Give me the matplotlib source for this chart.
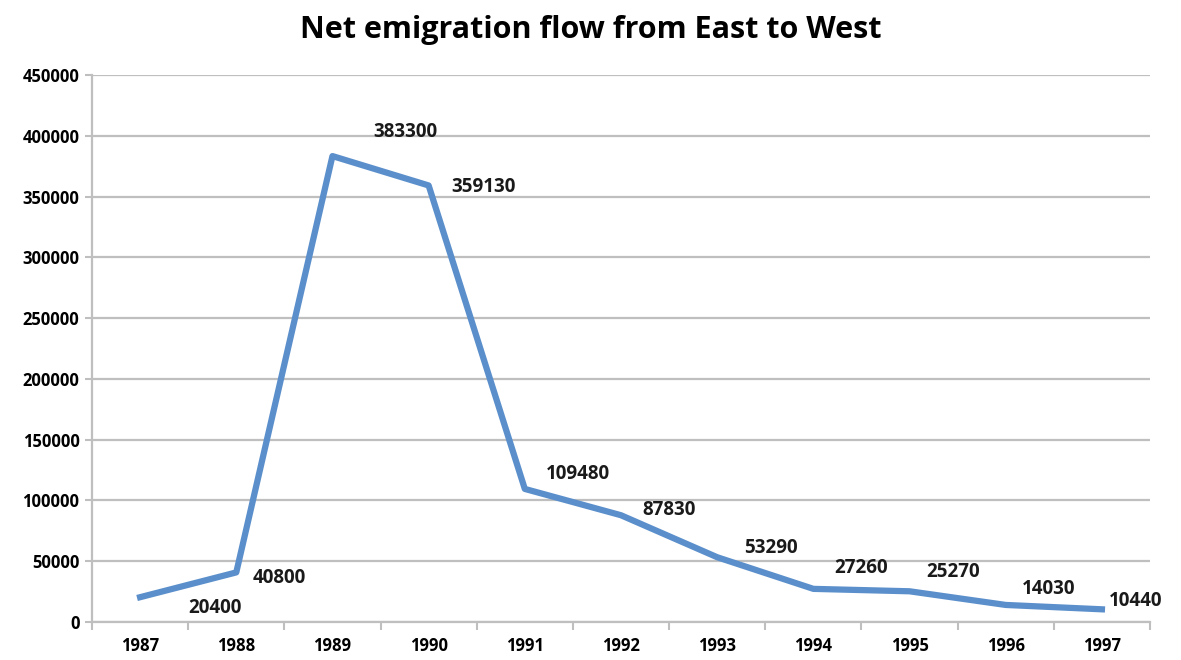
import matplotlib.pyplot as plt

years = ["1987", "1988", "1989", "1990", "1991", "1992", "1993", "1994", "1995", "1996", "1997"]
flow = [20400, 40800, 383300, 359130, 109480, 87830, 53290, 27260, 25270, 14030, 10440]

# label offsets in pixels (dx, dy)
offsets = [(75, -11), (43, -6), (73, 24), (55, -2), (53, 15), (48, 5),
           (54, 9), (48, 21), (44, 19), (43, 16), (34, 8)]

plt.rcParams['font.family'] = ['Open Sans', 'DejaVu Sans']
grey = "#bfbfbf"

fig = plt.figure(figsize=(11.81, 6.60), dpi=100)
ax = fig.add_axes([92 / 1181, 38 / 660, 1058 / 1181, 547 / 660])

x = list(range(len(years)))
ax.plot(x, flow, color="#5b8fcb", linewidth=4.5, solid_joinstyle="round", zorder=3)

for i, v in enumerate(flow):
    ax.annotate(str(v), (x[i], v), xytext=offsets[i], textcoords="offset pixels",
                ha="center", va="center", fontsize=13.5, fontweight="bold", color="#1a1a1a")

ax.set_xlim(-0.5, len(years) - 0.5)
ax.set_ylim(0, 450000)
ax.set_yticks(range(0, 450001, 50000))
ax.set_yticklabels([str(t) for t in range(0, 450001, 50000)], fontsize=12, fontweight="bold")
ax.set_xticks(x)
ax.set_xticklabels(years, fontsize=12, fontweight="bold")
ax.set_xticks([i - 0.5 for i in range(len(years) + 1)], minor=True)
ax.tick_params(axis="x", which="major", length=0, pad=11)
ax.tick_params(axis="x", which="minor", length=6, color=grey, width=1.5)
ax.tick_params(axis="y", length=5, color=grey, width=1.5, pad=4)

ax.grid(axis="y", color=grey, linewidth=1.6)
ax.set_axisbelow(True)
for s in ["top", "right"]:
    ax.spines[s].set_visible(False)
for s in ["left", "bottom"]:
    ax.spines[s].set_color(grey)
    ax.spines[s].set_linewidth(1.6)

fig.suptitle("Net emigration flow from East to West", y=0.978, fontsize=22, fontweight="bold")

fig.savefig("out.png", dpi=100)
